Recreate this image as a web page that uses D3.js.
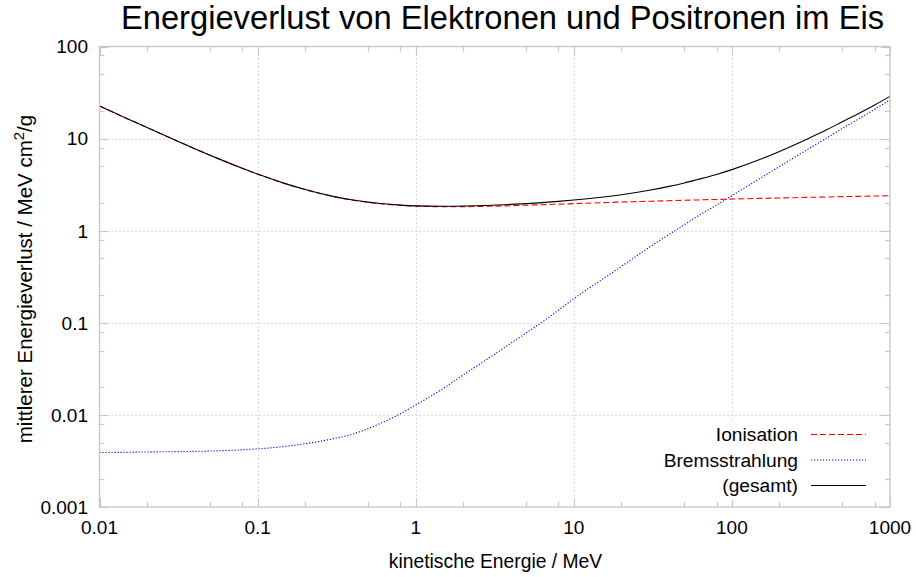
<!DOCTYPE html>
<html>
<head>
<meta charset="utf-8">
<script src="https://cdn.jsdelivr.net/npm/d3@7"></script>
<style>
  body { margin: 0; background: #fff; }
  svg { display: block; font-family: "Liberation Sans", Arial, sans-serif; }
</style>
</head>
<body>
<svg width="916" height="577"></svg>
<script>
// kinetic energy in MeV
const energy = [0.01, 0.015, 0.02, 0.03, 0.04, 0.05, 0.06, 0.08, 0.1, 0.15, 0.2, 0.3, 0.4, 0.5, 0.6, 0.8,
  1, 1.5, 2, 3, 4, 5, 6, 8, 10, 15, 20, 30, 40, 50, 60, 80, 100, 150, 200, 300, 400, 500, 600, 800, 1000];

// stopping power, MeV cm^2/g
const ionisation = [22.56, 16.47, 13.17, 9.653, 7.777, 6.603, 5.797, 4.757, 4.115, 3.238, 2.793, 2.355, 2.148, 2.034, 1.963, 1.886,
  1.849, 1.822, 1.824, 1.846, 1.870, 1.892, 1.911, 1.943, 1.968, 2.014, 2.046, 2.089, 2.118, 2.141, 2.158, 2.185,
  2.205, 2.241, 2.266, 2.301, 2.325, 2.343, 2.357, 2.379, 2.396];

const bremsstrahlung = [0.00390, 0.00393, 0.00396, 0.00399, 0.00402, 0.00405, 0.00409, 0.00418, 0.00428, 0.00455, 0.00487, 0.00550, 0.00620, 0.00710, 0.00810, 0.0103,
  0.0128, 0.0195, 0.0272, 0.043, 0.060, 0.0775, 0.096, 0.137, 0.183, 0.293, 0.41, 0.66, 0.91, 1.16, 1.42, 1.90,
  2.40, 3.68, 4.98, 7.6, 10.2, 12.9, 15.5, 20.8, 26.4];

const gesamt = [22.564, 16.474, 13.174, 9.657, 7.781, 6.607, 5.801, 4.761, 4.119, 3.243, 2.798, 2.361, 2.154, 2.041, 1.971, 1.896,
  1.862, 1.841, 1.851, 1.889, 1.930, 1.970, 2.007, 2.080, 2.151, 2.307, 2.456, 2.749, 3.028, 3.301, 3.578, 4.085,
  4.605, 5.921, 7.246, 9.901, 12.525, 15.243, 17.857, 23.179, 28.796];

const xTicks = [0.01, 0.1, 1, 10, 100, 1000];
const yTicks = [0.001, 0.01, 0.1, 1, 10, 100];
const minorSteps = [2, 5, 8];

const series = [
  { name: "Ionisation", values: ionisation, color: "#ff0000", dash: "6,3" },
  { name: "Bremsstrahlung", values: bremsstrahlung, color: "#0000ff", dash: "1.2,1.8" },
  { name: "(gesamt)", values: gesamt, color: "#000000", dash: null }
];

const svg = d3.select("svg");
const frame = { left: 99.5, right: 890, top: 46.5, bottom: 507 };

const x = d3.scaleLog().domain([0.01, 1000]).range([frame.left, frame.right]);
const y = d3.scaleLog().domain([0.001, 100]).range([frame.bottom, frame.top]);

const fmt = (v) => (v >= 1 ? d3.format("d")(v) : String(+v.toPrecision(1)));

const minorX = [];
xTicks.slice(0, -1).forEach((t) => minorSteps.forEach((m) => minorX.push(t * m)));
const minorY = [];
yTicks.slice(0, -1).forEach((t) => minorSteps.forEach((m) => minorY.push(t * m)));

const gridColor = "#c8c8c8";

// grid
const grid = svg.append("g").attr("class", "grid")
  .attr("stroke", gridColor).attr("stroke-width", 1).attr("stroke-dasharray", "1.3,2.7");
grid.selectAll(".gx").data(xTicks.slice(1, -1)).enter().append("line")
  .attr("x1", (d) => Math.round(x(d)) + 0.5).attr("x2", (d) => Math.round(x(d)) + 0.5)
  .attr("y1", frame.top).attr("y2", frame.bottom);
grid.selectAll(".gy").data(yTicks.slice(1, -1)).enter().append("line")
  .attr("y1", (d) => Math.round(y(d)) + 0.5).attr("y2", (d) => Math.round(y(d)) + 0.5)
  .attr("x1", frame.left).attr("x2", frame.right);

// ticks, pointing inward on all sides
const ticks = svg.append("g").attr("stroke", gridColor).attr("stroke-width", 1.2);
const drawXTicks = (vals, len) => {
  vals.forEach((v) => {
    const px = Math.round(x(v)) + 0.5;
    ticks.append("line").attr("x1", px).attr("x2", px).attr("y1", frame.bottom).attr("y2", frame.bottom - len);
    ticks.append("line").attr("x1", px).attr("x2", px).attr("y1", frame.top).attr("y2", frame.top + len);
  });
};
const drawYTicks = (vals, len) => {
  vals.forEach((v) => {
    const py = Math.round(y(v)) + 0.5;
    ticks.append("line").attr("y1", py).attr("y2", py).attr("x1", frame.left).attr("x2", frame.left + len);
    ticks.append("line").attr("y1", py).attr("y2", py).attr("x1", frame.right).attr("x2", frame.right - len);
  });
};
drawXTicks(xTicks, 9);
drawXTicks(minorX, 5);
drawYTicks(yTicks, 9);
drawYTicks(minorY, 5);

// legend box (opaque, hides grid)
svg.append("rect")
  .attr("x", 655).attr("y", 422).attr("width", 220).attr("height", 78)
  .attr("fill", "#fff");

// curves
const line = d3.line()
  .x((d) => x(d[0]))
  .y((d) => y(d[1]))
  .curve(d3.curveMonotoneX);

svg.append("g").selectAll("path").data(series).enter().append("path")
  .attr("d", (s) => line(energy.map((e, i) => [e, s.values[i]])))
  .attr("fill", "none")
  .attr("stroke", (s) => s.color)
  .attr("stroke-width", 1.1)
  .attr("stroke-dasharray", (s) => s.dash);

// frame
svg.append("rect")
  .attr("x", frame.left).attr("y", frame.top)
  .attr("width", frame.right - frame.left).attr("height", frame.bottom - frame.top)
  .attr("fill", "none").attr("stroke", gridColor).attr("stroke-width", 1.4);

// tick labels
const tickSize = 19;
svg.append("g").selectAll("text").data(xTicks).enter().append("text")
  .attr("x", (d) => x(d)).attr("y", 533.5)
  .attr("text-anchor", "middle").attr("font-size", tickSize)
  .text(fmt);
svg.append("g").selectAll("text").data(yTicks).enter().append("text")
  .attr("x", 88).attr("y", (d) => y(d)).attr("dy", "0.36em")
  .attr("text-anchor", "end").attr("font-size", tickSize)
  .text(fmt);

// axis titles
svg.append("text")
  .attr("x", 495.5).attr("y", 568)
  .attr("text-anchor", "middle").attr("font-size", 19.3)
  .text("kinetische Energie / MeV");

const yLabel = svg.append("text")
  .attr("transform", "translate(31.5, 279) rotate(-90)")
  .attr("text-anchor", "middle").attr("font-size", 20.5);
yLabel.append("tspan").text("mittlerer Energieverlust / MeV cm");
yLabel.append("tspan").attr("font-size", 15).attr("dy", -8).text("2");
yLabel.append("tspan").attr("dy", 8).text("/g");

// title
svg.append("text")
  .attr("x", 502.5).attr("y", 29)
  .attr("text-anchor", "middle").attr("font-size", 32.7)
  .text("Energieverlust von Elektronen und Positronen im Eis");

// legend
const legend = svg.append("g").selectAll("g").data(series).enter().append("g")
  .attr("transform", (s, i) => `translate(0, ${434.5 + i * 25.5})`);
legend.append("text")
  .attr("x", 798).attr("dy", "0.36em")
  .attr("text-anchor", "end").attr("font-size", 19.2)
  .text((s) => s.name);
legend.append("line")
  .attr("x1", 811).attr("x2", 866)
  .attr("stroke", (s) => s.color)
  .attr("stroke-width", 1.1)
  .attr("stroke-dasharray", (s) => s.dash);
</script>
</body>
</html>
